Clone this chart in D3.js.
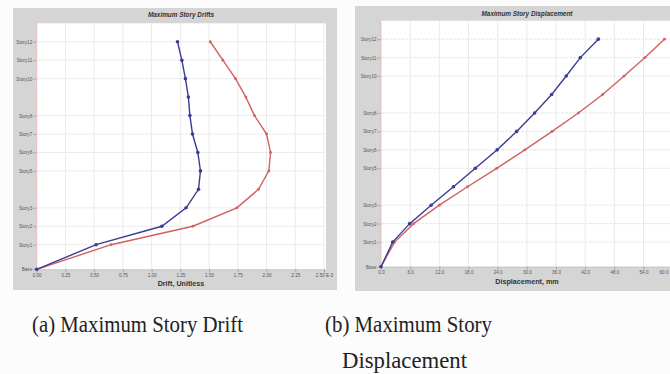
<!DOCTYPE html>
<html>
<head>
<meta charset="utf-8">
<script src="https://cdn.jsdelivr.net/npm/d3@7"></script>
<style>
  body { margin: 0; background: #fcfcfc; }
  svg { display: block; }
  .tick-label { font-family: "Liberation Sans", Arial, sans-serif; fill: #555; }
</style>
</head>
<body>
<svg id="chart"></svg>
<script>
// storeys, bottom to top, with elevations in m
const stories    = ["Base","Story1","Story2","Story3","Story4","Story5","Story6","Story7","Story8","Story9","Story10","Story11","Story12"];
const elevations = [0, 4, 7, 10, 13, 16, 19, 22, 25, 28, 31, 34, 37];
// storeys whose labels ETABS thinned out
const hiddenStories = ["Story4","Story9"];

// (a) drifts, x 1E-3
const driftTicks = [0, 0.25, 0.5, 0.75, 1.0, 1.25, 1.5, 1.75, 2.0, 2.25, 2.5];
const driftBlue  = [0, 0.517, 1.089, 1.30, 1.408, 1.425, 1.402, 1.356, 1.333, 1.32, 1.294, 1.263, 1.225];
const driftRed   = [0, 0.647, 1.359, 1.742, 1.93, 2.02, 2.035, 2.0, 1.895, 1.82, 1.73, 1.62, 1.51];

// (b) displacements, mm
const dispTicks = [0, 6, 12, 18, 24, 30, 36, 42, 48, 54, 60];
const dispBlue  = [0, 2.4, 5.9, 10.3, 14.9, 19.4, 23.9, 27.9, 31.6, 35.1, 38.1, 41.0, 44.7];
const dispRed   = [0, 2.8, 6.7, 12.0, 17.8, 23.8, 29.6, 35.2, 40.6, 45.6, 50.0, 54.3, 58.3];

const W = 670, H = 374;
const svg = d3.select("#chart").attr("width", W).attr("height", H);

function drawPanel(p) {
    const g = svg.append("g");

    // gray frame
    g.append("rect")
        .attr("x", p.frame[0]).attr("y", p.frame[1])
        .attr("width", p.frame[2]).attr("height", p.frame[3])
        .attr("fill", "#d5d5d5");

    const x = d3.scaleLinear().domain([p.ticks[0], p.ticks[p.ticks.length-1]]).range([p.left, p.right]);
    const y = d3.scaleLinear().domain([0, 40]).range([p.bottom, p.bottom - 40*6.15]);

    // white plot area
    g.append("rect")
        .attr("x", p.left).attr("y", y(40))
        .attr("width", Math.max(0, p.right - p.left + 2)).attr("height", y(0) - y(40))
        .attr("fill", "#ffffff");

    // grid
    const shown = stories.map((s, i) => ({s, e: elevations[i]})).filter(d => hiddenStories.indexOf(d.s) < 0);
    g.append("g").selectAll("line")
        .data(shown.filter(d => d.e > 0))
        .join("line")
        .attr("x1", p.left).attr("x2", p.right)
        .attr("y1", d => y(d.e)).attr("y2", d => y(d.e))
        .attr("stroke", "#e0e0e0").attr("stroke-width", 0.8)
        .attr("stroke-dasharray", "3,1");
    g.append("g").selectAll("line")
        .data(p.ticks.slice(1))
        .join("line")
        .attr("x1", d => x(d)).attr("x2", d => x(d))
        .attr("y1", y(0)).attr("y2", y(40))
        .attr("stroke", "#e4e4e4").attr("stroke-width", 0.8);

    // y axis line (ETABS draws it pinkish)
    g.append("line")
        .attr("x1", p.left).attr("x2", p.left)
        .attr("y1", y(0)).attr("y2", y(40))
        .attr("stroke", "#e9b8b0").attr("stroke-width", 0.8);

    // y axis
    const yAxis = d3.axisLeft(y)
        .tickValues(shown.map(d => d.e))
        .tickFormat(e => shown.find(d => d.e === e).s)
        .tickSize(3).tickPadding(1);
    const ya = g.append("g").attr("transform", `translate(${p.left - 0.5},0)`).call(yAxis);
    ya.select(".domain").remove();
    ya.selectAll(".tick line").attr("stroke", "#888").attr("stroke-width", 0.6);
    ya.selectAll("text").attr("class", "tick-label").style("font-size", "4.6px").attr("fill", "#555");

    // x axis
    const xAxis = d3.axisBottom(x)
        .tickValues(p.ticks)
        .tickFormat((d, i) => p.fmt(d) + (i === p.ticks.length - 1 && p.suffix ? p.suffix : ""))
        .tickSize(3).tickPadding(1.5);
    const xa = g.append("g").attr("transform", `translate(0,${y(0)})`).call(xAxis);
    xa.select(".domain").attr("stroke", "#bbb").attr("stroke-width", 0.6);
    xa.selectAll(".tick line").attr("stroke", "#888").attr("stroke-width", 0.6);
    xa.selectAll("text").attr("class", "tick-label").style("font-size", "4.6px").attr("fill", "#555");
    // last label sits at the picture's right edge: keep it inside
    if (p.clipLast) {
        xa.selectAll("text").filter((d, i) => i === p.ticks.length - 1)
            .attr("text-anchor", "end").attr("dx", (W - 2) - p.right);
    }

    // titles
    g.append("text")
        .attr("x", p.titleX).attr("y", p.titleY)
        .attr("text-anchor", "middle")
        .style("font-family", "Liberation Sans, Arial, sans-serif")
        .style("font-size", "6.4px").style("font-weight", "bold").style("font-style", "italic")
        .attr("fill", "#333")
        .text(p.title);
    g.append("text")
        .attr("x", p.titleX).attr("y", y(0) + 17)
        .attr("text-anchor", "middle")
        .style("font-family", "Liberation Sans, Arial, sans-serif")
        .style("font-size", "7.2px").style("font-weight", "bold")
        .attr("fill", "#333")
        .text(p.xTitle);

    // series
    const line = d3.line().x(d => x(d[0])).y(d => y(d[1]));
    const series = [
        {vals: p.red, color: "#d26060", r: 1.4},
        {vals: p.blue, color: "#3a3c94", r: 1.8}
    ];
    series.forEach(s => {
        const pts = s.vals.map((v, i) => [v, elevations[i]]);
        g.append("path").datum(pts)
            .attr("d", line)
            .attr("fill", "none").attr("stroke", s.color).attr("stroke-width", 1.4);
        g.append("g").selectAll("circle")
            .data(pts)
            .join("circle")
            .attr("cx", d => x(d[0])).attr("cy", d => y(d[1]))
            .attr("r", s.r).attr("fill", s.color);
    });
}

drawPanel({
    frame: [13, 8, 324, 282],
    left: 36.7, right: 324, bottom: 269.3,
    ticks: driftTicks, fmt: d3.format(".2f"), suffix: " E-3",
    blue: driftBlue, red: driftRed,
    title: "Maximum Story Drifts", titleX: 181, titleY: 17,
    xTitle: "Drift, Unitless"
});

drawPanel({
    frame: [355, 6, 330, 285],
    left: 381, right: 672.7, bottom: 266.7,
    ticks: dispTicks, fmt: d3.format(".1f"), suffix: "", clipLast: true,
    blue: dispBlue, red: dispRed,
    title: "Maximum Story Displacement", titleX: 527, titleY: 16,
    xTitle: "Displacement, mm"
});

// captions (scanned text is a little narrow, so squeeze to width)
const cap = svg.append("g")
    .style("font-family", "Liberation Serif, 'Times New Roman', serif")
    .style("font-size", "23px")
    .attr("fill", "#222")
    .attr("text-anchor", "middle");
cap.append("text").attr("x", 137.5).attr("y", 332)
    .attr("textLength", 211).attr("lengthAdjust", "spacingAndGlyphs")
    .text("(a) Maximum Story Drift");
cap.append("text").attr("x", 408.5).attr("y", 332)
    .attr("textLength", 167).attr("lengthAdjust", "spacingAndGlyphs")
    .text("(b) Maximum Story");
cap.append("text").attr("x", 404.5).attr("y", 368)
    .attr("textLength", 125).attr("lengthAdjust", "spacingAndGlyphs")
    .text("Displacement");
</script>
</body>
</html>
